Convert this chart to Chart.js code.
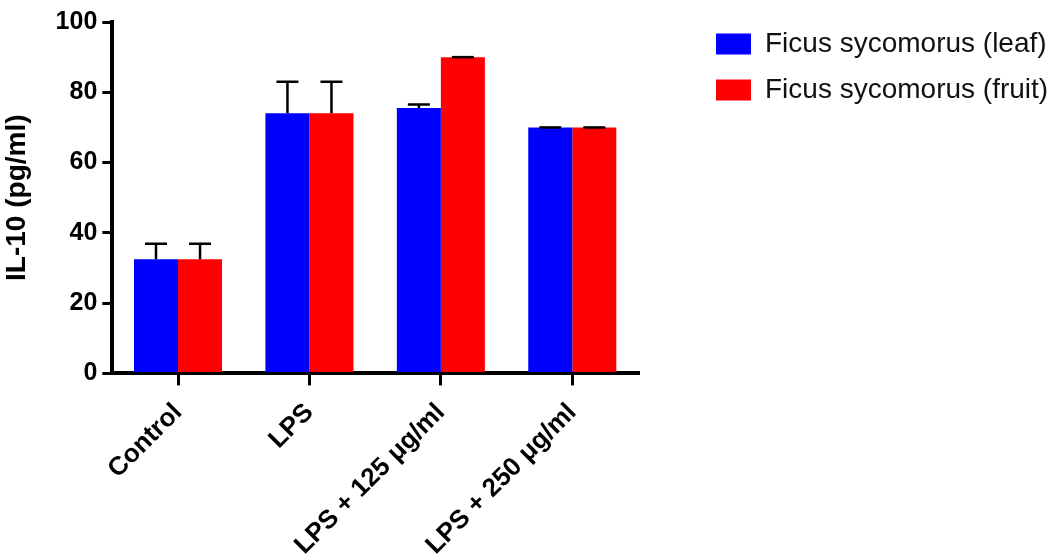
<!DOCTYPE html>
<html>
<head>
<meta charset="utf-8">
<script src="https://cdn.jsdelivr.net/npm/chart.js@4"></script>
<style>
  html, body { margin: 0; padding: 0; background: #fff; }
  #wrap { width: 1062px; height: 558px; overflow: hidden; }
</style>
</head>
<body>
<div id="wrap"><canvas id="chart" width="1062" height="558"></canvas></div>
<script>
const groups = ['Control', 'LPS', 'LPS + 125 \u03bcg/ml', 'LPS + 250 \u03bcg/ml'];
const leafValues = [32.5, 74, 75.5, 70];
const leafErrors = [4.4, 9, 1, 0];
const fruitValues = [32.5, 74, 90, 70];
const fruitErrors = [4.4, 9, 0, 0];
const yTicks = [0, 20, 40, 60, 80, 100];

const FONT = 'Liberation Sans, Arial, Helvetica, sans-serif';
const plotRight = 638;   // where the x axis ends
const legendLeft = 716;  // left edge of the legend boxes
const legendTop = 30;

// error bars drawn from each bar element + the y scale
const errorBars = {
  id: 'errorBars',
  afterDatasetsDraw(chart) {
    const ctx = chart.ctx;
    const y = chart.scales.y;
    ctx.save();
    ctx.strokeStyle = '#000';
    ctx.lineWidth = 2.5;
    chart.data.datasets.forEach((ds, i) => {
      const meta = chart.getDatasetMeta(i);
      meta.data.forEach((bar, j) => {
        const top = y.getPixelForValue(ds.data[j] + ds.errors[j]);
        ctx.beginPath();
        ctx.moveTo(bar.x, bar.y);
        ctx.lineTo(bar.x, top);
        ctx.moveTo(bar.x - 11, top);
        ctx.lineTo(bar.x + 11, top);
        ctx.stroke();
      });
    });
    ctx.restore();
  }
};

// keep the plot narrow and park the legend top right
const legendPlace = {
  id: 'legendPlace',
  beforeLayout(chart) {
    const leg = chart.legend;
    if (leg && !leg._patched) {
      const fit = leg.fit.bind(leg);
      leg.fit = function () { fit(); this.width = chart.width - plotRight; };
      leg._patched = true;
    }
  },
  afterLayout(chart) {
    const leg = chart.legend;
    const pad = leg.options.labels.padding;
    leg.left = legendLeft - pad;
    leg.top = legendTop - pad;
  }
};

const ctx = document.getElementById('chart').getContext('2d');
new Chart(ctx, {
  type: 'bar',
  data: {
    labels: groups,
    datasets: [{
      label: 'Ficus sycomorus (leaf)',
      data: leafValues,
      errors: leafErrors,
      backgroundColor: '#0000FF',
      borderWidth: 0
    }, {
      label: 'Ficus sycomorus (fruit)',
      data: fruitValues,
      errors: fruitErrors,
      backgroundColor: '#FF0000',
      borderWidth: 0
    }]
  },
  options: {
    responsive: false,
    animation: false,
    layout: { padding: { top: 22, left: 0, right: 0, bottom: -15 } },
    datasets: { bar: { categoryPercentage: 0.67, barPercentage: 1 } },
    plugins: {
      tooltip: { enabled: false },
      legend: {
        position: 'right',
        align: 'start',
        labels: {
          boxWidth: 35,
          boxHeight: 21,
          padding: 18,
          color: '#111',
          font: { family: FONT, size: 28 }
        }
      }
    },
    scales: {
      x: {
        grid: { display: true, drawOnChartArea: false, offset: false, color: '#000', lineWidth: 3, tickLength: 12 },
        border: { display: true, color: '#000', width: 4 },
        ticks: {
          color: '#000',
          maxRotation: 45,
          minRotation: 45,
          padding: 12,
          font: { family: FONT, size: 26, weight: 'bold' }
        }
      },
      y: {
        min: 0,
        max: 100,
        afterBuildTicks(scale) { scale.ticks = yTicks.map(v => ({ value: v })); },
        grid: { display: true, drawOnChartArea: false, color: '#000', lineWidth: 3, tickLength: 10 },
        border: { display: true, color: '#000', width: 4 },
        title: {
          display: true,
          text: 'IL-10 (pg/ml)',
          color: '#000',
          padding: { top: 0, bottom: 17 },
          font: { family: FONT, size: 28, weight: 'bold' }
        },
        ticks: {
          color: '#000',
          padding: 5,
          font: { family: FONT, size: 25, weight: 'bold' }
        }
      }
    }
  },
  plugins: [errorBars, legendPlace]
});
</script>
</body>
</html>
